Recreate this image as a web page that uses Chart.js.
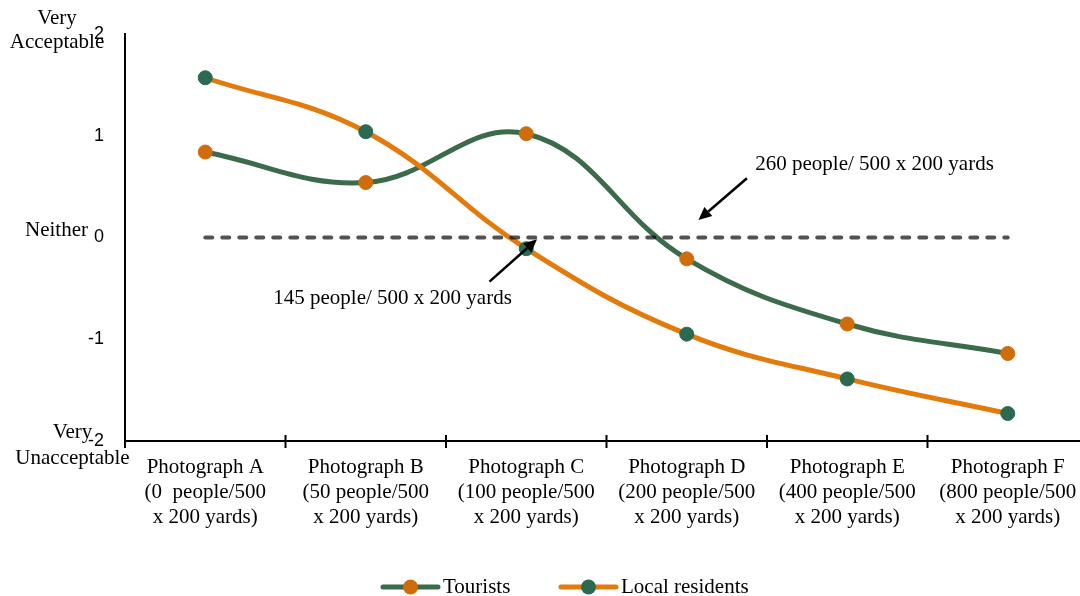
<!DOCTYPE html>
<html>
<head>
<meta charset="utf-8">
<script src="https://cdn.jsdelivr.net/npm/chart.js@4.4.1/dist/chart.umd.min.js"></script>
<style>
  html, body { margin: 0; padding: 0; background: #fff; overflow: hidden; width: 1080px; height: 596px; }
  #wrap { position: absolute; left: 0; top: 0; width: 1100px; height: 596px; }
</style>
</head>
<body>
<div id="wrap"><canvas id="c" width="1100" height="596"></canvas></div>
<script>
// Categories (multi-line tick labels)
const categories = [
  ['Photograph A', '(0  people/500', 'x 200 yards)'],
  ['Photograph B', '(50 people/500', 'x 200 yards)'],
  ['Photograph C', '(100 people/500', 'x 200 yards)'],
  ['Photograph D', '(200 people/500', 'x 200 yards)'],
  ['Photograph E', '(400 people/500', 'x 200 yards)'],
  ['Photograph F', '(800 people/500', 'x 200 yards)']
];

// Mean acceptability ratings
const tourists       = [0.84, 0.54, 1.02, -0.21, -0.85, -1.14];
const localResidents = [1.57, 1.04, -0.11, -0.95, -1.39, -1.73];
const neitherLevel   = [0, 0, 0, 0, 0, 0];

// Value axis
const yMin = -2;
const yMax = 2;
const yStep = 1;

// Verbal anchors on the value axis
const scaleWords = [
  { value: 2,  lines: ['Very', 'Acceptable'] },
  { value: 0,  lines: ['Neither'] },
  { value: -2, lines: ['Very', 'Unacceptable'] }
];

// Threshold call-outs (x in category units, y in rating units)
const callouts = [
  { text: '260 people/ 500 x 200 yards', textAt: [3.427, 0.713], from: [3.375, 0.582], to: [3.073, 0.172] },
  { text: '145 people/ 500 x 200 yards', textAt: [0.424, -0.604], from: [1.771, -0.434], to: [2.067, -0.018] }
];

const GREEN_LINE = '#3b6b4a';
const GREEN_DOT  = '#2b6a50';
const ORANGE_LINE = '#e27a0c';
const ORANGE_DOT  = '#cf6c0c';
const SERIF = '"Liberation Serif", "Times New Roman", serif';

const extras = {
  id: 'extras',
  afterDatasetsDraw(chart) {
    const ctx = chart.ctx;
    const xs = chart.scales.x, ys = chart.scales.y;
    ctx.save();
    // call-out arrows and labels
    ctx.fillStyle = '#000';
    ctx.strokeStyle = '#000';
    ctx.font = '21px ' + SERIF;
    ctx.textBaseline = 'middle';
    ctx.textAlign = 'left';
    callouts.forEach(c => {
      const x1 = xs.getPixelForValue(c.from[0]), y1 = ys.getPixelForValue(c.from[1]);
      const x2 = xs.getPixelForValue(c.to[0]),   y2 = ys.getPixelForValue(c.to[1]);
      const ang = Math.atan2(y2 - y1, x2 - x1);
      const headLen = 13, headHalf = 6;
      const bx = x2 - headLen * Math.cos(ang), by = y2 - headLen * Math.sin(ang);
      ctx.lineWidth = 2.5;
      ctx.beginPath();
      ctx.moveTo(x1, y1);
      ctx.lineTo(bx, by);
      ctx.stroke();
      ctx.beginPath();
      ctx.moveTo(x2, y2);
      ctx.lineTo(bx + headHalf * Math.sin(ang), by - headHalf * Math.cos(ang));
      ctx.lineTo(bx - headHalf * Math.sin(ang), by + headHalf * Math.cos(ang));
      ctx.closePath();
      ctx.fill();
      ctx.fillText(c.text, xs.getPixelForValue(c.textAt[0]), ys.getPixelForValue(c.textAt[1]));
    });
    ctx.restore();
  },
  afterDraw(chart) {
    const ctx = chart.ctx;
    const xs = chart.scales.x, ys = chart.scales.y;
    const area = chart.chartArea;
    ctx.save();
    // category boundary tick marks crossing the axis
    ctx.strokeStyle = '#000';
    ctx.lineWidth = 2;
    for (let i = 0; i <= categories.length; i++) {
      const x = xs.getPixelForValue(i - 0.5);
      ctx.beginPath();
      ctx.moveTo(x, area.bottom - 6);
      ctx.lineTo(x, area.bottom + 7);
      ctx.stroke();
    }
    // verbal anchors
    ctx.fillStyle = '#000';
    ctx.font = '21px ' + SERIF;
    ctx.textBaseline = 'middle';
    ctx.textAlign = 'center';
    const top = scaleWords[0], mid = scaleWords[1], bot = scaleWords[2];
    let py = ys.getPixelForValue(top.value);
    ctx.fillText(top.lines[0], 57, py - 16);
    ctx.fillText(top.lines[1], 57, py + 8);
    py = ys.getPixelForValue(mid.value);
    ctx.textAlign = 'right';
    ctx.fillText(mid.lines[0], 88, py - 7);
    ctx.textAlign = 'center';
    py = ys.getPixelForValue(bot.value);
    ctx.fillText(bot.lines[0], 72.5, py - 9);
    ctx.fillText(bot.lines[1], 72.5, py + 17);

    // legend: line sample with marker
    const ly = 587;
    const items = [
      { ds: chart.data.datasets[1], x: 383 },
      { ds: chart.data.datasets[0], x: 561 }
    ];
    ctx.textAlign = 'left';
    items.forEach(it => {
      ctx.strokeStyle = it.ds.borderColor;
      ctx.lineWidth = 5;
      ctx.lineCap = 'round';
      ctx.beginPath();
      ctx.moveTo(it.x, ly);
      ctx.lineTo(it.x + 55, ly);
      ctx.stroke();
      ctx.fillStyle = it.ds.pointBackgroundColor;
      ctx.beginPath();
      ctx.arc(it.x + 27.5, ly, 7.5, 0, Math.PI * 2);
      ctx.fill();
      ctx.fillStyle = '#000';
      ctx.fillText(it.ds.label, it.x + 60, ly);
    });
    ctx.restore();
  }
};

new Chart(document.getElementById('c'), {
  type: 'line',
  data: {
    labels: categories,
    datasets: [
      {
        label: 'Local residents',
        data: localResidents,
        borderColor: ORANGE_LINE,
        borderWidth: 5,
        pointBackgroundColor: GREEN_DOT,
        pointBorderColor: GREEN_DOT,
        pointBorderWidth: 1,
        pointRadius: 7,
        tension: 0.4,
        order: 1
      },
      {
        label: 'Tourists',
        data: tourists,
        borderColor: GREEN_LINE,
        borderWidth: 5,
        pointBackgroundColor: ORANGE_DOT,
        pointBorderColor: ORANGE_DOT,
        pointBorderWidth: 1,
        pointRadius: 7,
        tension: 0.4,
        order: 2
      },
      {
        label: 'Neither',
        data: neitherLevel,
        borderColor: 'rgba(0,0,0,0.68)',
        borderWidth: 4,
        borderDash: [7, 10],
        borderCapStyle: 'round',
        pointRadius: 0,
        tension: 0,
        order: 0
      }
    ]
  },
  options: {
    responsive: false,
    animation: false,
    devicePixelRatio: 1,
    layout: { padding: { top: 34, right: 12, bottom: 0, left: 0 } },
    plugins: {
      legend: { display: false },
      tooltip: { enabled: false }
    },
    scales: {
      x: {
        type: 'category',
        offset: true,
        grid: { display: false, drawTicks: false },
        border: { display: true, color: '#000', width: 2 },
        ticks: {
          autoSkip: false,
          maxRotation: 0,
          padding: 14,
          color: '#000',
          font: { family: SERIF, size: 21, lineHeight: '25px' }
        },
        afterFit(scale) { scale.height = 155; }
      },
      y: {
        min: yMin,
        max: yMax,
        grid: { display: false, drawTicks: false },
        border: { display: true, color: '#000', width: 2 },
        ticks: {
          stepSize: yStep,
          padding: 21,
          color: '#000',
          font: { family: '"Liberation Sans", Arial, sans-serif', size: 18 }
        },
        afterFit(scale) { scale.width = 125; }
      }
    }
  },
  plugins: [extras]
});
</script>
</body>
</html>
